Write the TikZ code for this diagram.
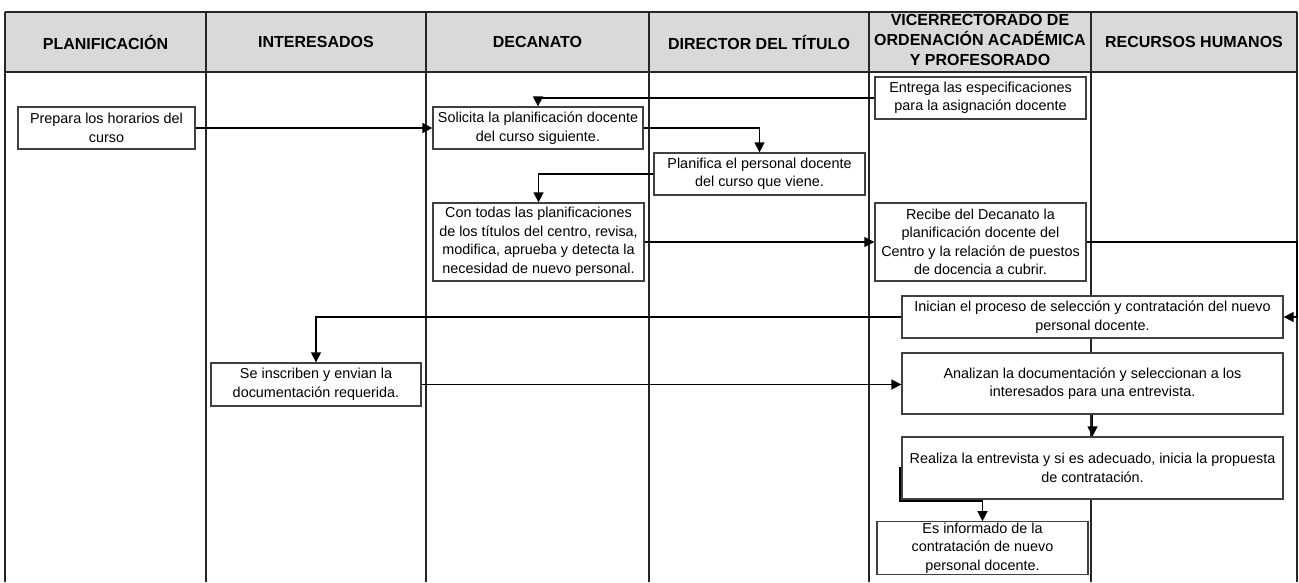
\documentclass[tikz,border=0pt]{standalone}
\usepackage{fontspec}
\setmainfont{Liberation Sans}
\usepackage{tikz}
\usetikzlibrary{arrows.meta}

\tikzset{
  box/.style={draw=black!75,line width=1.3pt,fill=white,align=center,inner sep=1pt,font=\fontsize{14.4}{18.5}\selectfont},
  head/.style={align=center,font=\fontsize{16}{20}\selectfont\bfseries},
  lane/.style={line width=1.2pt,black!85},
  arr/.style={line width=1.5pt,-{Triangle[length=10pt,width=10pt]}}
}

\begin{document}
\begin{tikzpicture}[x=1pt,y=-1pt]
\useasboundingbox (0,0) rectangle (1299,582);

% cabecera y calles
\fill[black!15] (5,12) rectangle (1297,72);
\foreach \x in {5,206,426,649,869,1091,1297}
  \draw[lane] (\x,12) -- (\x,582);
\draw[lane] (5,12) -- (1297,12);
\draw[lane] (5,72) -- (1297,72);

\node[head] (hPlan) at (105.5,42) {PLANIFICACIÓN};
\node[head] (hInt) at (316,42) {INTERESADOS};
\node[head] (hDec) at (537.5,42) {DECANATO};
\node[head] (hDir) at (759,42) {DIRECTOR DEL TÍTULO};
\node[head] (hVic) at (980,40) {VICERRECTORADO DE\\ORDENACIÓN ACADÉMICA\\Y PROFESORADO};
\node[head] (hRH) at (1194,42) {RECURSOS HUMANOS};
\coordinate (rb) at (1297,72);


\node[box,minimum width=177,minimum height=42] (prep) at (106.5,128) {Prepara los horarios del\\curso};
\node[box,minimum width=210,minimum height=42] (sol) at (538,128) {Solicita la planificación docente\\del curso siguiente.};
\node[box,minimum width=211,minimum height=42] (ent) at (980.5,98) {Entrega las especificaciones\\para la asignación docente};
\node[box,minimum width=211,minimum height=42] (plan) at (759.5,174) {Planifica el personal docente\\del curso que viene.};
\node[box,minimum width=211,minimum height=78] (con) at (538.5,242) {Con todas las planificaciones\\de los títulos del centro, revisa,\\modifica, aprueba y detecta la\\necesidad de nuevo personal.};
\node[box,minimum width=211,minimum height=78] (rec) at (980.5,242) {Recibe del Decanato la\\planificación docente del\\Centro y la relación de puestos\\de docencia a cubrir.};
\node[box,minimum width=381,minimum height=42] (ini) at (1092.5,317) {Inician el proceso de selección y contratación del nuevo\\personal docente.};
\node[box,minimum width=210,minimum height=43] (ins) at (316,384.5) {Se inscriben y envian la\\documentación requerida.};
\node[box,minimum width=381,minimum height=61] (ana) at (1092.5,383.5) {Analizan la documentación y seleccionan a los\\interesados para una entrevista.};
\node[box,minimum width=381,minimum height=62] (rea) at (1092.5,468) {Realiza la entrevista y si es adecuado, inicia la propuesta\\de contratación.};
\node[box,minimum width=211,minimum height=52] (inf) at (982.5,548) {Es informado de la\\contratación de nuevo\\personal docente.};
\coordinate (k) at (900,501);

\draw[arr] (prep.east) -- (sol.west);
\draw[arr] (ent.west) -| (sol.north);
\draw[arr] (sol.east) -| (plan.north);
\draw[arr] (plan.west) -| (con.north);
\draw[arr] (con.east) -- (rec.west);
\draw[arr] (rec.east) -- (rec.east -| rb) |- (ini.east);
\draw[arr] (ini.west) -| (ins.north);
\draw[arr] (ins.east) -- (ins.east -| ana.west);
\draw[arr] (ana.south) -- (rea.north);
\draw[arr] (rea.west) -- (rea.west -| k) -- (k) -| (inf.north);
\end{tikzpicture}
\end{document}
